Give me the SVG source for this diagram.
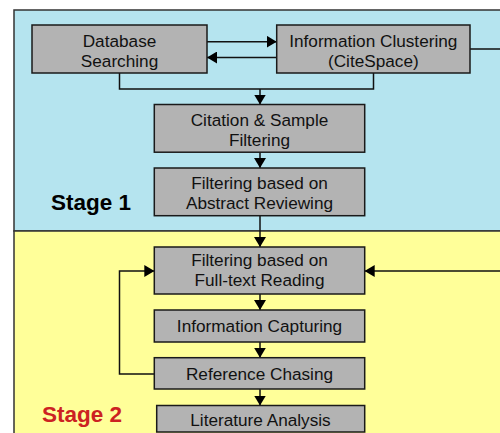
<svg xmlns="http://www.w3.org/2000/svg" width="500" height="433" viewBox="0 0 500 433">
<defs>
<marker id="ah" viewBox="0 0 10 12" refX="10" refY="6" markerWidth="10" markerHeight="12" markerUnits="userSpaceOnUse" orient="auto">
<path d="M0,0 L10,6 L0,12 Z" fill="#000"/>
</marker>
<style>
.box{fill:#b3b3b3;stroke:#1a1a1a;stroke-width:1.5}
.t{font-family:"Liberation Sans",Arial,sans-serif;font-size:17.2px;fill:#111;text-anchor:middle}
.c{fill:none;stroke:#111;stroke-width:1.5}
.a{marker-end:url(#ah)}
.st{font-family:"Liberation Sans",Arial,sans-serif;font-size:22.5px;font-weight:bold}
</style>
</defs>
<rect x="0" y="0" width="500" height="433" fill="#fff"/>
<rect x="14" y="10" width="500" height="221" fill="#b5e4ef" stroke="#333" stroke-width="1.5"/>
<rect x="14" y="231" width="500" height="210" fill="#ffff99" stroke="#333" stroke-width="1.5"/>
<text class="st" x="51" y="210" fill="#000">Stage 1</text>
<text class="st" x="42" y="422" fill="#cc2222">Stage 2</text>
<g id="connectors">
<line class="c a" x1="207" y1="41.7" x2="276.7" y2="41.7"/>
<line class="c a" x1="276.7" y1="57.5" x2="207" y2="57.5"/>
<polyline class="c" points="119.5,73 119.5,89 373.5,89 373.5,73"/>
<line class="c a" x1="260" y1="89" x2="260" y2="104.5"/>
<line class="c a" x1="260" y1="152" x2="260" y2="168"/>
<line class="c a" x1="260" y1="215.7" x2="260" y2="247"/>
<line class="c a" x1="260" y1="294" x2="260" y2="310"/>
<line class="c a" x1="260" y1="342" x2="260" y2="357.7"/>
<line class="c a" x1="260" y1="389" x2="260" y2="405.5"/>
<polyline class="c a" points="154.3,374 119.5,374 119.5,271 154.3,271"/>
<line class="c" x1="470" y1="49" x2="502" y2="49"/>
<line class="c a" x1="502" y1="271" x2="364.7" y2="271"/>
</g>
<g id="database-searching">
<rect class="box" x="32" y="25" width="175" height="48"/>
<text class="t" x="119.5" y="47">Database</text>
<text class="t" x="119.5" y="67">Searching</text>
</g>
<g id="information-clustering">
<rect class="box" x="276.7" y="25" width="193.3" height="48"/>
<text class="t" x="373.3" y="47">Information Clustering</text>
<text class="t" x="373.3" y="67">(CiteSpace)</text>
</g>
<g id="citation-filtering">
<rect class="box" x="154.3" y="104.5" width="210.4" height="47.7"/>
<text class="t" x="259.5" y="126">Citation &amp; Sample</text>
<text class="t" x="259.5" y="146">Filtering</text>
</g>
<g id="abstract-filtering">
<rect class="box" x="154.3" y="168" width="210.4" height="47.7"/>
<text class="t" x="259.5" y="189">Filtering based on</text>
<text class="t" x="259.5" y="209">Abstract Reviewing</text>
</g>
<g id="fulltext-filtering">
<rect class="box" x="154.3" y="247" width="210.4" height="47"/>
<text class="t" x="259.5" y="266">Filtering based on</text>
<text class="t" x="259.5" y="286">Full-text Reading</text>
</g>
<g id="information-capturing">
<rect class="box" x="154.3" y="310" width="210.4" height="32"/>
<text class="t" x="259.5" y="332">Information Capturing</text>
</g>
<g id="reference-chasing">
<rect class="box" x="154.3" y="357.7" width="210.4" height="31.3"/>
<text class="t" x="259.5" y="380">Reference Chasing</text>
</g>
<g id="literature-analysis">
<rect class="box" x="156.7" y="405.5" width="208" height="26.5"/>
<text class="t" x="260.5" y="426">Literature Analysis</text>
</g>
</svg>
